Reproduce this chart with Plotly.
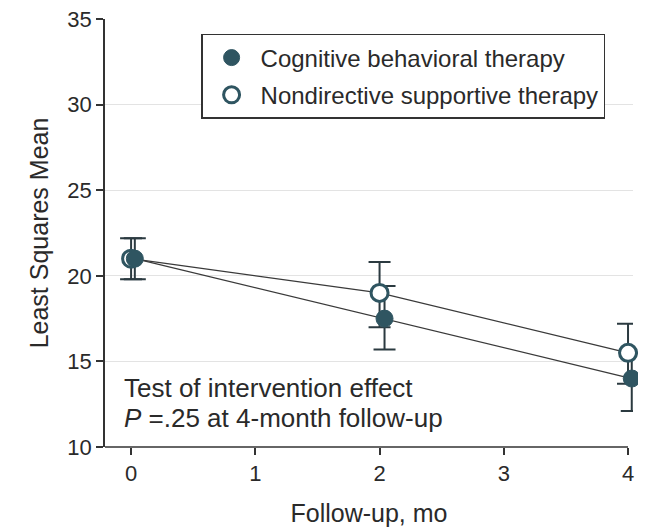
import plotly.graph_objects as go

months = [0, 2, 4]
cbt_x_offset = [0.03, 0.04, 0.03]
cbt_mean = [21.0, 17.5, 14.0]
cbt_lo = [19.8, 15.7, 12.1]
cbt_hi = [22.2, 19.4, 15.8]
nst_mean = [21.0, 19.0, 15.5]
nst_lo = [19.8, 17.0, 13.7]
nst_hi = [22.2, 20.8, 17.2]
x_ticks = [0, 1, 2, 3, 4]
y_ticks = [10, 15, 20, 25, 30, 35]

TEAL = "#2f5561"
BAR = "#2b3a40"
LINE = "#3a3a3a"
AX = "#333333"
FONT = "Liberation Sans, Arial, sans-serif"
TXT = "#2a2a2a"

cbt_x = [m + o for m, o in zip(months, cbt_x_offset)]

def err(mean, lo, hi):
    return dict(type="data", symmetric=False,
                array=[h - m for m, h in zip(mean, hi)],
                arrayminus=[m - l for m, l in zip(mean, lo)],
                color=BAR, thickness=2, width=11)

fig = go.Figure()
fig.add_trace(go.Scatter(x=months, y=nst_mean, mode="lines",
                         line=dict(color=LINE, width=1.3),
                         error_y=err(nst_mean, nst_lo, nst_hi),
                         showlegend=False, cliponaxis=False))
fig.add_trace(go.Scatter(x=cbt_x, y=cbt_mean, mode="lines",
                         line=dict(color=LINE, width=1.3),
                         error_y=err(cbt_mean, cbt_lo, cbt_hi),
                         showlegend=False, cliponaxis=False))
fig.add_trace(go.Scatter(x=months, y=nst_mean, mode="markers",
                         name="Nondirective supportive therapy",
                         legendrank=2, legendgroup="b",
                         marker=dict(size=17, color="white",
                                     line=dict(color=TEAL, width=3)),
                         cliponaxis=False))
fig.add_trace(go.Scatter(x=cbt_x, y=cbt_mean, mode="markers",
                         name="Cognitive behavioral therapy",
                         legendrank=1, legendgroup="a",
                         marker=dict(size=17, color=TEAL,
                                     line=dict(color=TEAL, width=1)),
                         cliponaxis=False))

fig.add_annotation(x=0.032, xref="paper", y=13.45, yref="y",
                   text="Test of intervention effect", showarrow=False,
                   xanchor="left", yanchor="middle",
                   font=dict(family=FONT, size=26, color=TXT))
fig.add_annotation(x=0.032, xref="paper", y=11.7, yref="y",
                   text="<i>P</i> =.25 at 4-month follow-up", showarrow=False,
                   xanchor="left", yanchor="middle",
                   font=dict(family=FONT, size=26, color=TXT))

# x-axis baseline ending at the last tick
fig.add_shape(type="line", xref="x", yref="paper",
              x0=-0.21, x1=max(x_ticks), y0=0, y1=0,
              line=dict(color=AX, width=1.5), layer="above")

fig.update_layout(
    width=638, height=519,
    margin=dict(l=97, r=13, t=11, b=80, autoexpand=False),
    paper_bgcolor="white", plot_bgcolor="white",
    font=dict(family=FONT, size=22, color=TXT),
    legend=dict(x=0.182, y=0.965, xanchor="left", yanchor="top",
                bordercolor=AX, borderwidth=1.5, bgcolor="white",
                font=dict(family=FONT, size=24, color=TXT),
                itemwidth=48,
                traceorder="grouped", tracegroupgap=3),
    xaxis=dict(range=[-0.21, 4.04], tickvals=x_ticks, ticks="outside",
               ticklen=7, tickwidth=1.5, tickcolor=AX,
               showline=False, showgrid=False, zeroline=False,
               automargin=False, ticklabeloverflow="allow",
               tickfont=dict(size=22),
               title=dict(text="Follow-up, mo", standoff=24,
                          font=dict(family=FONT, size=25, color=TXT))),
    yaxis=dict(range=[10, 35], tickvals=y_ticks, ticks="outside",
               ticklen=7, tickwidth=1.5, tickcolor=AX,
               showline=True, linecolor=AX, linewidth=1.5,
               showgrid=True, gridcolor="#e3e3e3", gridwidth=1,
               zeroline=False, automargin=False, ticklabeloverflow="allow",
               tickfont=dict(size=22),
               title=dict(text="Least Squares Mean", standoff=12,
                          font=dict(family=FONT, size=25, color=TXT))),
)

fig.write_html("out.html")
